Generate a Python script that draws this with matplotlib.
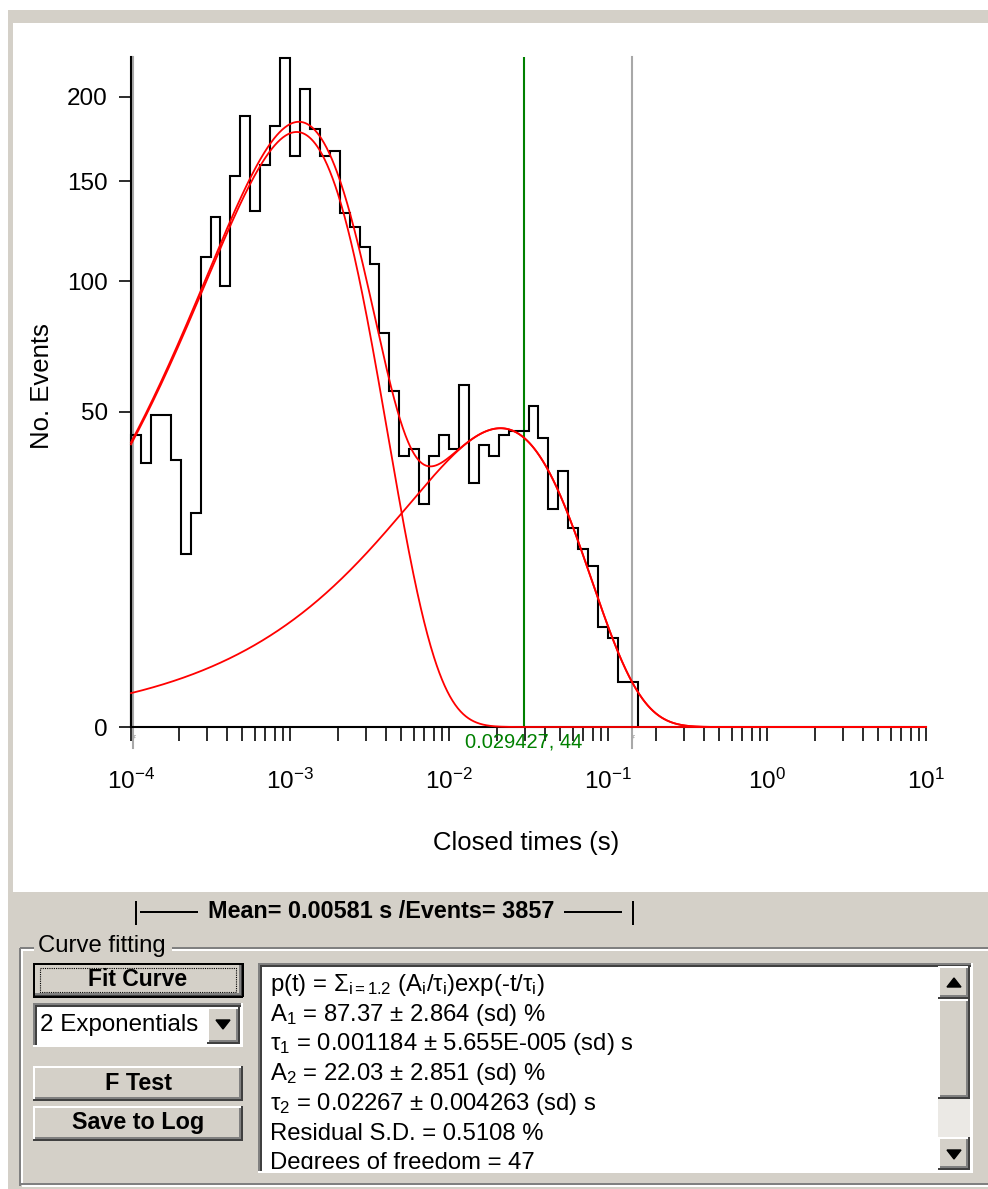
import matplotlib
matplotlib.use('Agg')
import matplotlib.pyplot as plt
import matplotlib.transforms as mtransforms
import numpy as np
from matplotlib.patches import Rectangle
from matplotlib.ticker import LogLocator, LogFormatterSciNotation, NullFormatter

plt.rcParams['font.family'] = ['Liberation Sans', 'DejaVu Sans']
plt.rcParams['mathtext.fontset'] = 'custom'
plt.rcParams['mathtext.rm'] = 'Liberation Sans'
plt.rcParams['mathtext.it'] = 'Liberation Sans:italic'
plt.rcParams['mathtext.bf'] = 'Liberation Sans:bold'
plt.rcParams['axes.unicode_minus'] = False

# closed-time histogram, 16 log bins per decade from 0.1 ms
bin_start = 1e-4
bins_per_decade = 16
counts = [43, 35, 49, 49, 36, 15, 23, 111, 131, 98, 153, 188, 134, 159, 182,
          225, 164, 205, 180, 164, 167, 133, 126, 116, 108, 78, 57, 37, 39, 25,
          37, 43, 39, 59, 30, 40, 37, 43, 44, 44, 52, 42, 24, 33, 20, 16, 13,
          5, 4, 1, 1]

# fitted 2-exponential pdf (values from the results box)
n_events = 3857
amps = [0.8737, 0.2203]
taus = [0.001184, 0.02267]

# cursors
cursor_t = 0.029427
cursor_n = 44
fit_range = [1.034e-4, 0.141]

y_ticks = [0, 50, 100, 150, 200]

results = [
    r'p(t) = Σ$_{\mathregular{i=1.2}}$ (A$_{\mathregular{i}}$/τ$_{\mathregular{i}}$)exp(-t/τ$_{\mathregular{i}}$)',
    r'A$_{\mathregular{1}}$ = 87.37 ± 2.864 (sd) %',
    r'τ$_{\mathregular{1}}$ = 0.001184 ± 5.655E-005 (sd) s',
    r'A$_{\mathregular{2}}$ = 22.03 ± 2.851 (sd) %',
    r'τ$_{\mathregular{2}}$ = 0.02267 ± 0.004263 (sd) s',
    'Residual S.D. = 0.5108 %',
    'Degrees of freedom = 47',
]

W, H = 988, 1189
GRAY = '#d4d0c8'
DARK = '#808080'
BLK = '#404040'
PX = 0.72  # one pixel in points


def box(x0, y0, x1, y1):
    return [x0 / W, 1 - y1 / H, (x1 - x0) / W, (y1 - y0) / H]


fig = plt.figure(figsize=(W / 100, H / 100), dpi=100)
fig.patch.set_facecolor('white')

# background "window" drawn in pixel coordinates
bg = fig.add_axes([0, 0, 1, 1])
bg.set_xlim(0, W)
bg.set_ylim(H, 0)
bg.axis('off')


def rect(x0, y0, x1, y1, fc, **kw):
    bg.add_patch(Rectangle((x0, y0), x1 - x0, y1 - y0, fc=fc, ec='none', **kw))


def line(xs, ys, c, lw=2):
    bg.plot(xs, ys, color=c, lw=lw * PX, solid_capstyle='butt')


def raised(x0, y0, x1, y1):
    rect(x0, y0, x1, y1, GRAY)
    line([x0, x1], [y0 + 1, y0 + 1], 'white')
    line([x0 + 1, x0 + 1], [y0, y1], 'white')
    line([x0, x1], [y1 - 1, y1 - 1], BLK)
    line([x1 - 1, x1 - 1], [y0, y1], BLK)
    line([x0 + 2, x1 - 2], [y1 - 3, y1 - 3], DARK)
    line([x1 - 3, x1 - 3], [y0 + 2, y1 - 2], DARK)


def sunken(x0, y0, x1, y1, fc='white'):
    rect(x0, y0, x1, y1, fc)
    line([x0, x1], [y0 + 1, y0 + 1], DARK)
    line([x0 + 1, x0 + 1], [y0, y1], DARK)
    line([x0 + 2, x1 - 2], [y0 + 3, y0 + 3], BLK)
    line([x0 + 3, x0 + 3], [y0 + 2, y1 - 2], BLK)
    line([x0, x1], [y1 - 1, y1 - 1], 'white')
    line([x1 - 1, x1 - 1], [y0, y1], 'white')


rect(8, 10, W, 23, GRAY)
rect(8, 10, 13, H, GRAY)
rect(8, 890, W, H, GRAY)
line([13, W], [891, 891], 'white')

# mean / events bar
line([136, 136], [901, 925], 'black')
line([140, 198], [912, 912], 'black')
line([564, 622], [912, 912], 'black')
line([633, 633], [901, 925], 'black')
bg.text(381, 912, 'Mean= 0.00581 s /Events= 3857', fontsize=16.8,
        fontweight='bold', ha='center', va='center')

# group box
line([20, 34], [948, 948], DARK)
line([172, W], [948, 948], DARK)
line([20, 34], [950, 950], 'white')
line([172, W], [950, 950], 'white')
line([20, 20], [948, 1186], DARK)
line([22, 22], [950, 1184], 'white')
line([20, W], [1184, 1184], DARK)
line([22, W], [1186, 1186], 'white')
bg.text(38, 946, 'Curve fitting', fontsize=17.2, va='center')

# buttons
raised(33, 963, 243, 997)
line([33, 243], [963.5, 963.5], 'black')
line([33.5, 33.5], [963, 997], 'black')
line([33, 243], [996.5, 996.5], 'black')
line([242.5, 242.5], [963, 997], 'black')
bg.add_patch(Rectangle((40, 968), 196, 24, fc='none', ec='black', lw=0.8,
                       ls=(0, (1, 1))))
bg.text(138, 980, 'Fit Curve', fontsize=16.5, fontweight='bold',
        ha='center', va='center')

sunken(33, 1003, 243, 1047)
raised(207, 1007, 240, 1044)
bg.fill([216, 230, 223], [1020, 1020, 1029], color='black')
bg.text(40, 1025, '2 Exponentials', fontsize=17.4, va='center')

raised(33, 1066, 243, 1101)
bg.text(138, 1083, 'F Test', fontsize=16.8, fontweight='bold',
        ha='center', va='center')
raised(33, 1106, 243, 1141)
bg.text(138, 1123, 'Save to Log', fontsize=16.8, fontweight='bold',
        ha='center', va='center')

# results memo with scroll bar
sunken(258, 963, 973, 1173)
raised(938, 966, 970, 999)
bg.fill([947, 961, 954], [987, 987, 978], color='black')
raised(938, 999, 970, 1099)
rect(938, 1099, 970, 1137, '#ebe9e5')
raised(938, 1137, 970, 1170)
bg.fill([947, 961, 954], [1150, 1150, 1159], color='black')

memo = fig.add_axes(box(262, 967, 936, 1169))
memo.set_xlim(262, 936)
memo.set_ylim(1169, 967)
memo.axis('off')
for i, s in enumerate(results):
    memo.text(270, 985 + 29.7 * i, s, fontsize=17.2, va='center', clip_on=True)

# histogram plot
ax = fig.add_axes(box(131, 57, 926, 727))
ax.patch.set_alpha(0)
ax.set_xscale('log')
ax.set_yscale('function', functions=(lambda v: np.sqrt(np.maximum(v, 0)),
                                     lambda v: np.square(v)))
ax.set_xlim(1e-4, 10)
ax.set_ylim(0, 226)

edges = bin_start * 10 ** (np.arange(len(counts) + 1) / bins_per_decade)
ax.stairs(counts, edges, baseline=0, color='black', lw=1.5, zorder=3,
          clip_on=False)

t = np.logspace(-4, 1, 1200)
r = 10 ** (1 / bins_per_decade)
comps = [n_events * a * (np.exp(-t / tau) - np.exp(-t * r / tau))
         for a, tau in zip(amps, taus)]
for c in comps + [comps[0] + comps[1]]:
    ax.plot(t, c, color='red', lw=1.3, zorder=4, clip_on=False)

blend = mtransforms.blended_transform_factory(ax.transData, ax.transAxes)
ax.axvline(cursor_t, color='#008000', lw=1.5, zorder=2)
ax.text(cursor_t, -0.022, f'{cursor_t}, {cursor_n}', transform=blend,
        color='#008000', fontsize=14.5, ha='center', va='center')
for xf in fit_range:
    ax.axvline(xf, ymin=-0.031, ymax=1, color='#a8a8a8', lw=1.5,
               clip_on=False, zorder=1)
    ax.text(xf, -0.02, 'f', transform=blend, color='#a8a8a8', fontsize=8,
            style='italic', ha='center', va='center')

for side in ['top', 'right']:
    ax.spines[side].set_visible(False)
for side in ['left', 'bottom']:
    ax.spines[side].set_linewidth(1.5)
    ax.spines[side].set_color('black')

ax.set_yticks(y_ticks)
ax.set_yticklabels([str(v) for v in y_ticks])
ax.yaxis.set_minor_locator(matplotlib.ticker.NullLocator())
ax.xaxis.set_major_locator(LogLocator(base=10))
ax.xaxis.set_major_formatter(LogFormatterSciNotation())
ax.xaxis.set_minor_locator(LogLocator(base=10, subs=np.arange(2, 10)))
ax.xaxis.set_minor_formatter(NullFormatter())
ax.tick_params(axis='y', direction='out', length=8.6, width=1.44, pad=8,
               labelsize=17.5, color='#303030')
ax.tick_params(axis='x', which='both', direction='out', length=10,
               width=1.44, pad=20, labelsize=17.5, color='#303030')

fig.text(42 / W, 1 - 386 / H, 'No. Events', rotation=90, fontsize=18.5,
         ha='center', va='center')
fig.text(526 / W, 1 - 843 / H, 'Closed times (s)', fontsize=18.5,
         ha='center', va='center')

fig.savefig('out.png', dpi=100)
